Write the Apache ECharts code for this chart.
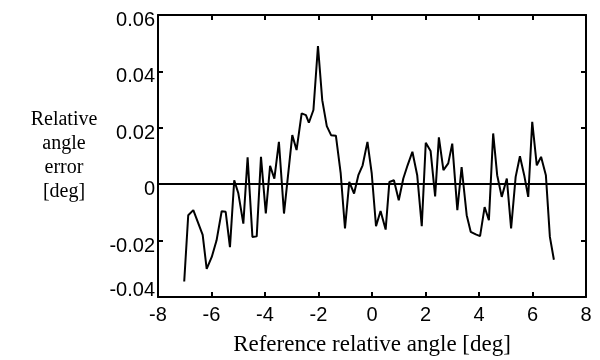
<!DOCTYPE html>
<html>
<head>
<meta charset="utf-8">
<script src="https://cdn.jsdelivr.net/npm/echarts@6/dist/echarts.min.js"></script>
<style>
  html, body { margin: 0; padding: 0; background: #fff; }
  #chart { width: 600px; height: 360px; }
</style>
</head>
<body>
<div id="chart"></div>
<script>
// reference angle [deg] and relative angle error [deg]
const angle = [
  -7.02, -6.87, -6.68, -6.33, -6.18, -5.99, -5.81, -5.62, -5.47, -5.31,
  -5.15, -5.00, -4.81, -4.65, -4.47, -4.31, -4.15, -3.97, -3.81, -3.65,
  -3.48, -3.29, -2.98, -2.82, -2.63, -2.47, -2.36, -2.19, -2.02, -1.86,
  -1.69, -1.53, -1.35, -1.17, -1.01, -0.85, -0.67, -0.51, -0.35, -0.17,
  -0.01, 0.15, 0.32, 0.51, 0.65, 0.82, 1.00, 1.17, 1.33, 1.51,
  1.69, 1.86, 2.01, 2.19, 2.36, 2.50, 2.67, 2.85, 3.00, 3.19,
  3.35, 3.54, 3.69, 3.88, 4.04, 4.21, 4.37, 4.53, 4.68, 4.85,
  5.04, 5.20, 5.37, 5.53, 5.69, 5.84, 5.99, 6.16, 6.32, 6.50,
  6.65, 6.80
];
const error = [
  -0.0345, -0.0110, -0.0092, -0.0180, -0.0300, -0.0258, -0.0199, -0.0096, -0.0098, -0.0223,
  0.0014, -0.0031, -0.0140, 0.0095, -0.0187, -0.0185, 0.0097, -0.0104, 0.0065, 0.0020,
  0.0150, -0.0104, 0.0174, 0.0121, 0.0251, 0.0245, 0.0218, 0.0263, 0.0490, 0.0298,
  0.0206, 0.0174, 0.0172, 0.0038, -0.0157, 0.0008, -0.0033, 0.0032, 0.0067, 0.0150,
  0.0038, -0.0149, -0.0095, -0.0161, 0.0008, 0.0014, -0.0057, 0.0020, 0.0067, 0.0115,
  0.0032, -0.0149, 0.0147, 0.0118, -0.0043, 0.0166, 0.0050, 0.0074, 0.0144, -0.0092,
  0.0061, -0.0110, -0.0169, -0.0178, -0.0184, -0.0081, -0.0128, 0.0180, 0.0032, -0.0045,
  0.0020, -0.0157, 0.0026, 0.0099, 0.0032, -0.0045, 0.0221, 0.0067, 0.0097, 0.0032,
  -0.0187, -0.0268
];
const yTickLabels = { '0.06': '0.06', '0.04': '0.04', '0.02': '0.02', '0': '0', '-0.02': '-0.02', '-0.04': '-0.04' };

const chart = echarts.init(document.getElementById('chart'));

const tickFont = { color: '#000', fontFamily: 'Liberation Sans, Arial, sans-serif', fontSize: 20 };
const serif = 'Liberation Serif, Times New Roman, serif';
const axisLine = { show: true, onZero: false, lineStyle: { color: '#000', width: 2 } };
const tick = { show: true, inside: true, length: 5, lineStyle: { color: '#000', width: 2 } };

chart.setOption({
  animation: false,
  backgroundColor: '#fff',
  grid: { left: 158, right: 14, top: 15, bottom: 63, containLabel: false, outerBoundsMode: 'none' },
  xAxis: [
    {
      type: 'value', min: -8, max: 8, interval: 2, position: 'bottom',
      axisLine, axisTick: tick, splitLine: { show: false },
      axisLabel: { ...tickFont, margin: 8 },
      name: 'Reference relative angle [deg]',
      nameLocation: 'middle', nameGap: 36,
      nameTextStyle: { color: '#000', fontFamily: serif, fontSize: 23 }
    },
    {
      type: 'value', min: -8, max: 8, interval: 2, position: 'top',
      axisLine, axisTick: tick, splitLine: { show: false },
      axisLabel: { show: false }
    }
  ],
  yAxis: [
    {
      type: 'value', min: -0.04, max: 0.06, interval: 0.02, position: 'left',
      axisLine, axisTick: tick, splitLine: { show: false },
      axisLabel: {
        ...tickFont, margin: 3,
        formatter: v => {
          const s = yTickLabels[String(Math.round(v * 100) / 100)] ?? String(v);
          return v < -0.03 ? '{up|' + s + '}' : '{down|' + s + '}';
        },
        rich: {
          down: { ...tickFont, padding: [11, 0, 0, 0] },
          up: { ...tickFont, padding: [0, 0, 14, 0] }
        }
      },
      name: 'Relative\nangle\nerror\n[deg]',
      nameLocation: 'middle', nameRotate: 0, nameGap: 94,
      nameTextStyle: { color: '#000', fontFamily: serif, fontSize: 20, lineHeight: 24, align: 'center', verticalAlign: 'middle', padding: [0, 0, 24, 0] }
    },
    {
      type: 'value', min: -0.04, max: 0.06, interval: 0.02, position: 'right',
      axisLine, axisTick: tick, splitLine: { show: false },
      axisLabel: { show: false }
    }
  ],
  series: [
    {
      type: 'line',
      data: angle.map((a, i) => [a, error[i]]),
      showSymbol: false,
      lineStyle: { color: '#000', width: 2 },
      markLine: {
        silent: true, symbol: 'none', label: { show: false },
        lineStyle: { color: '#000', width: 2, type: 'solid' },
        data: [{ yAxis: 0 }]
      }
    }
  ]
});
</script>
</body>
</html>
